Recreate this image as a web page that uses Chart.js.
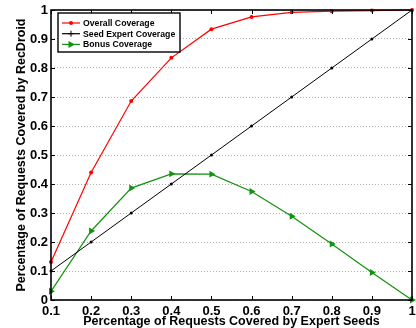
<!DOCTYPE html>
<html>
<head>
<meta charset="utf-8">
<script src="https://cdn.jsdelivr.net/npm/chart.js@4/dist/chart.umd.min.js"></script>
<style>
  body { margin: 0; background: #fff; }
  canvas { display: block; }
</style>
</head>
<body>
<canvas id="grafico" width="416" height="328"></canvas>
<script>
// dati
let seedPerc = [0.1, 0.2, 0.3, 0.4, 0.5, 0.6, 0.7, 0.8, 0.9, 1.0];
let overall = [0.131, 0.44, 0.686, 0.835, 0.934, 0.976, 0.992, 0.996, 0.998, 1.0];
let seedExpert = [0.1, 0.2, 0.3, 0.4, 0.5, 0.6, 0.7, 0.8, 0.9, 1.0];
let bonus = [0.03, 0.238, 0.386, 0.435, 0.434, 0.374, 0.289, 0.193, 0.095, 0.0];
let xTicks = [0.1, 0.2, 0.3, 0.4, 0.5, 0.6, 0.7, 0.8, 0.9, 1];
let yTicks = [0, 0.1, 0.2, 0.3, 0.4, 0.5, 0.6, 0.7, 0.8, 0.9, 1];

let nomi = ["Overall Coverage", "Seed Expert Coverage", "Bonus Coverage"];
let colori = ["#ff0000", "#000000", "#119211"];

Chart.defaults.font.family = "'Liberation Sans', Arial, sans-serif";
Chart.defaults.color = "#000";

function punti(valori){
    return seedPerc.map((x, i) => ({x: x, y: valori[i]}));
}

function etichetta(v){
    return String(Math.round(v * 10) / 10);
}

function marcatore(ctx, tipo, x, y, colore){
    ctx.save();
    ctx.fillStyle = colore;
    ctx.strokeStyle = colore;
    ctx.lineWidth = 1;
    ctx.beginPath();
    if (tipo == "circle") {
        ctx.arc(x, y, 2, 0, Math.PI * 2);
        ctx.fill();
    } else if (tipo == "cross") {
        ctx.moveTo(x - 3, y); ctx.lineTo(x + 3, y);
        ctx.moveTo(x, y - 3); ctx.lineTo(x, y + 3);
        ctx.stroke();
    } else {
        ctx.moveTo(x + 4, y);
        ctx.lineTo(x - 2.5, y - 3.5);
        ctx.lineTo(x - 2.5, y + 3.5);
        ctx.closePath();
        ctx.fill();
    }
    ctx.restore();
}

let cornice = {
    id: "cornice",
    afterDraw(chart){
        let ctx = chart.ctx;
        let a = chart.chartArea;
        let sx = chart.scales.x;
        let sy = chart.scales.y;
        ctx.save();
        ctx.strokeStyle = "#000";
        ctx.lineWidth = 1;
        ctx.beginPath();
        for (let v of xTicks) {
            let px = Math.round(sx.getPixelForValue(v)) + 0.5;
            ctx.moveTo(px, a.bottom); ctx.lineTo(px, a.bottom - 4);
            ctx.moveTo(px, a.top); ctx.lineTo(px, a.top + 4);
        }
        for (let v of yTicks) {
            let py = Math.round(sy.getPixelForValue(v)) + 0.5;
            ctx.moveTo(a.left, py); ctx.lineTo(a.left + 4, py);
            ctx.moveTo(a.right, py); ctx.lineTo(a.right - 4, py);
        }
        ctx.stroke();
        ctx.lineWidth = 1.6;
        ctx.strokeRect(a.left, a.top, a.right - a.left, a.bottom - a.top);

        // legenda
        let lx = a.left + 7, ly = a.top + 3, lw = 122, lh = 39;
        ctx.fillStyle = "#fff";
        ctx.fillRect(lx, ly, lw, lh);
        ctx.lineWidth = 1.4;
        ctx.strokeRect(lx, ly, lw, lh);
        let tipi = ["circle", "cross", "triangle"];
        ctx.font = "bold 8.7px 'Liberation Sans', Arial, sans-serif";
        ctx.textBaseline = "middle";
        for (let i = 0; i < nomi.length; i++) {
            let ry = ly + 10 + i * 10.7;
            ctx.strokeStyle = colori[i];
            ctx.lineWidth = 1.2;
            ctx.beginPath();
            ctx.moveTo(lx + 4, ry); ctx.lineTo(lx + 22, ry);
            ctx.stroke();
            marcatore(ctx, tipi[i], lx + 13, ry, colori[i]);
            ctx.fillStyle = "#000";
            ctx.fillText(nomi[i], lx + 25, ry + 0.5);
        }
        ctx.restore();
    }
};

let grafico = new Chart(document.getElementById("grafico"), {
    type: "line",
    data: {
        datasets: [
            {label: nomi[0], data: punti(overall), borderColor: colori[0], backgroundColor: colori[0],
             borderWidth: 1.2, pointStyle: "circle", pointRadius: 2, pointBorderWidth: 0},
            {label: nomi[1], data: punti(seedExpert), borderColor: colori[1], backgroundColor: colori[1],
             borderWidth: 1, pointStyle: "circle", pointRadius: 1.5, pointBorderWidth: 0},
            {label: nomi[2], data: punti(bonus), borderColor: colori[2], backgroundColor: colori[2],
             borderWidth: 1.2, pointStyle: "triangle", pointRotation: 90, pointRadius: 4, pointBorderWidth: 0}
        ]
    },
    options: {
        responsive: false,
        animation: false,
        clip: false,
        layout: {padding: {top: 10, right: 3, left: 0, bottom: 0}},
        plugins: {
            legend: {display: false},
            tooltip: {enabled: false}
        },
        scales: {
            x: {
                type: "linear",
                min: 0.1,
                max: 1,
                afterBuildTicks: s => { s.ticks = xTicks.map(v => ({value: v})); },
                afterFit: s => { s.height = 28; s.paddingLeft = 0; s.paddingRight = 0; },
                grid: {display: false, drawTicks: false},
                border: {display: false},
                ticks: {padding: 4, maxRotation: 0, autoSkip: false,
                        font: {size: 13, weight: "bold"}, callback: v => etichetta(v)},
                title: {display: true, text: "Percentage of Requests Covered by Expert Seeds",
                        font: {size: 12.5, weight: "bold", lineHeight: 1}, padding: {top: 0, bottom: 0}}
            },
            y: {
                min: 0,
                max: 1,
                afterBuildTicks: s => { s.ticks = yTicks.map(v => ({value: v})); },
                afterFit: s => { s.width = 51; s.paddingTop = 0; s.paddingBottom = 0; },
                grid: {color: "#b0b0b0", drawTicks: false, lineWidth: 1},
                border: {display: false, dash: [1, 2]},
                ticks: {padding: 3, autoSkip: false,
                        font: {size: 13, weight: "bold"}, callback: v => etichetta(v)},
                title: {display: true, text: "Percentage of Requests Covered by RecDroid",
                        font: {size: 12.5, weight: "bold", lineHeight: 1}, padding: {top: 15, bottom: 0}}
            }
        }
    },
    plugins: [cornice]
});
</script>
</body>
</html>
